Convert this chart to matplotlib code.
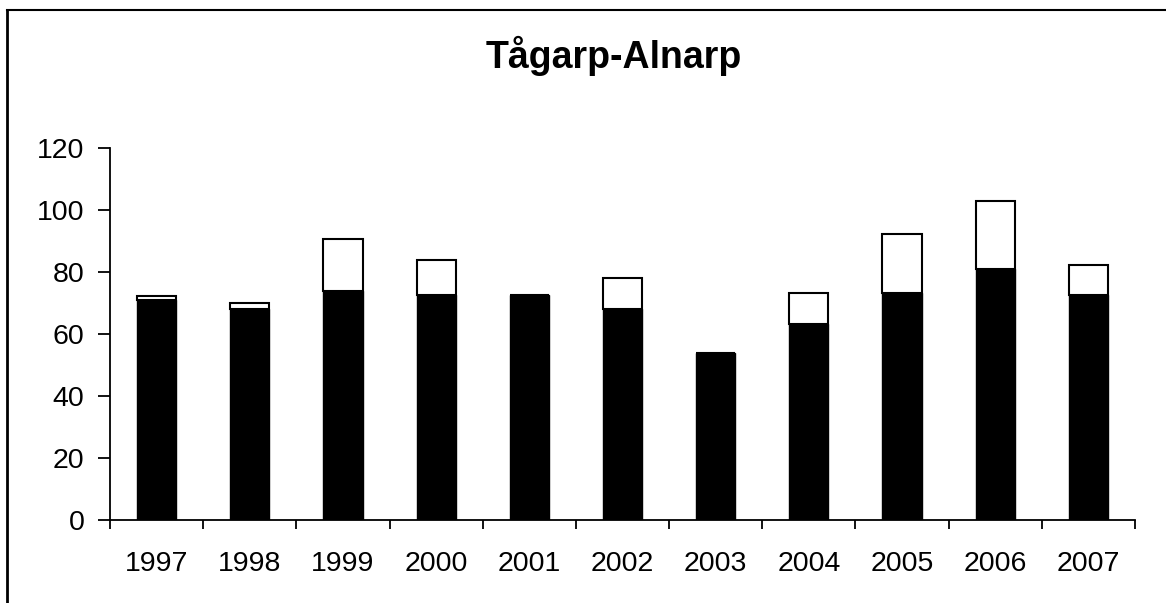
import numpy as np
import matplotlib
matplotlib.use("Agg")
from matplotlib import pyplot as plt
from matplotlib.lines import Line2D

years = ['1997', '1998', '1999', '2000', '2001', '2002', '2003', '2004', '2005', '2006', '2007']
lower = [71, 68, 74, 72.5, 72.5, 68, 54, 63.3, 73.3, 81, 72.5]
upper = [1.3, 2, 16.7, 11.4, 0, 10, 0, 9.8, 19.1, 22, 9.8]

plt.rcParams['font.family'] = ['Liberation Sans', 'DejaVu Sans']

fig = plt.figure(figsize=(11.66, 6.03), dpi=100)
ax = fig.add_axes([110/1166, 83/603, 1025/1166, 372/603])

X = np.arange(len(years))
ax.bar(X, lower, width=0.42, color='black', edgecolor='black', lw=1.0)
ax.bar(X, upper, width=0.42, bottom=lower, color='white', edgecolor='black', lw=1.5)

ax.set_xlim(-0.5, len(years) - 0.5)
ax.set_ylim(0, 120)
ax.set_yticks(np.arange(0, 121, 20))
ax.set_xticks(np.arange(-0.5, len(years), 1))
ax.set_xticklabels([])
ax.set_xticks(X, minor=True)
ax.set_xticklabels(years, minor=True)
ax.tick_params(axis='x', which='major', direction='out', length=6.5, width=1.3)
ax.tick_params(axis='x', which='minor', length=0, pad=22, labelsize=20.5)
ax.tick_params(axis='y', direction='out', length=8.5, width=1.3, labelsize=20.5, pad=10)

for s in ['top', 'right']:
    ax.spines[s].set_visible(False)
for s in ['left', 'bottom']:
    ax.spines[s].set_linewidth(1.3)

fig.text(0.526, 0.907, 'Tågarp-Alnarp', ha='center', va='center', fontsize=27, fontweight='bold')

# chart border
fig.add_artist(Line2D([7/1166, 7/1166], [0, 1 - 10/603], color='black', lw=2, transform=fig.transFigure))
fig.add_artist(Line2D([7/1166, 1], [1 - 10/603, 1 - 10/603], color='black', lw=1.5, transform=fig.transFigure))

plt.savefig('out.png', dpi=100)
